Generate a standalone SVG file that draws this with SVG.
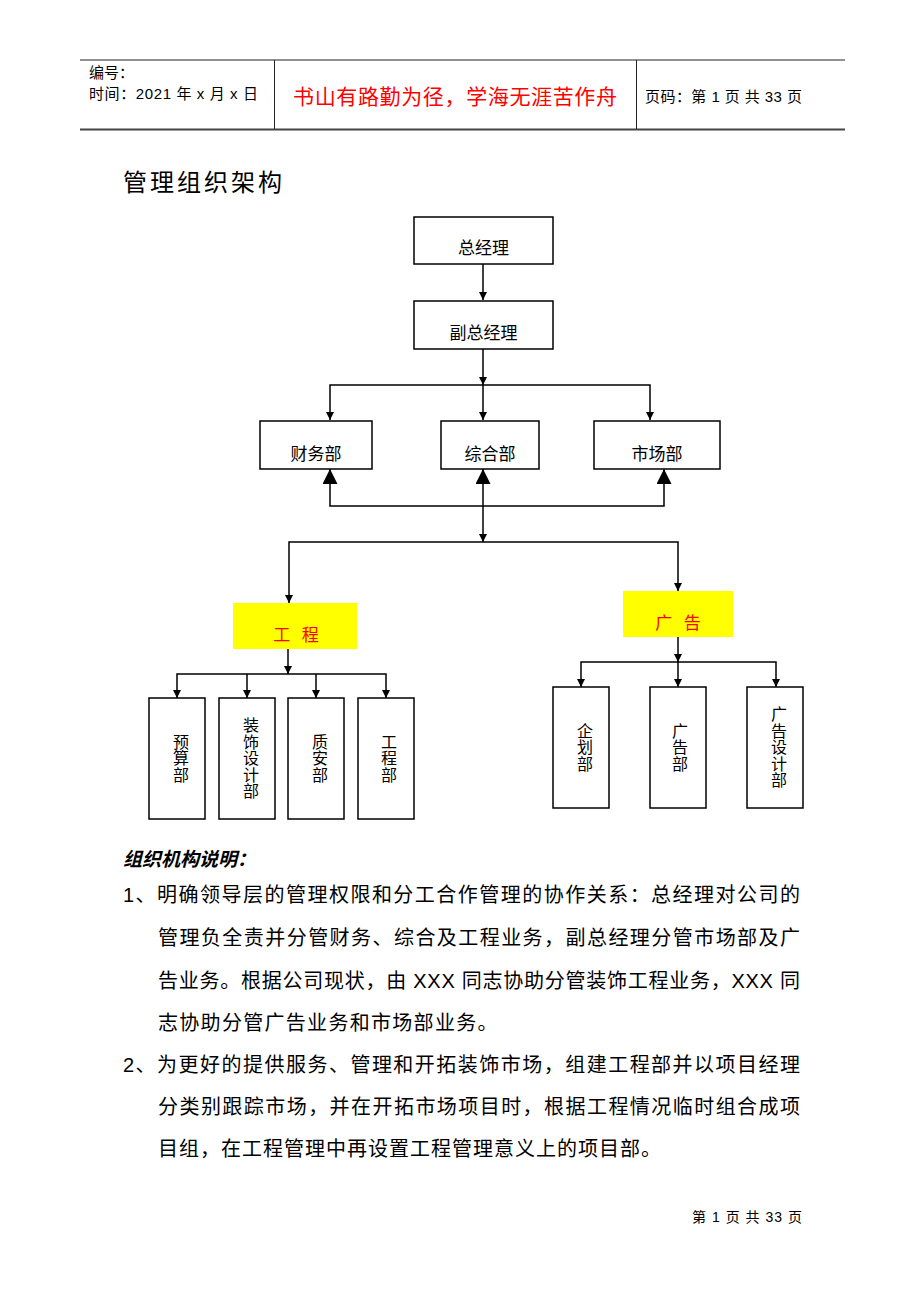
<svg xmlns="http://www.w3.org/2000/svg" width="920" height="1302" viewBox="0 0 920 1302">
<style>
.t{font-family:"Liberation Sans","Noto Sans CJK SC",sans-serif;fill:#000}
.c{font-family:"Noto Sans CJK SC",sans-serif;fill:#000}
.box{fill:#fff;stroke:#000;stroke-width:1.5}
.yel{fill:#ffff00;stroke:none}
.n{font-size:17px;text-anchor:middle;dominant-baseline:central}
.v{font-size:16px;text-anchor:middle;writing-mode:vertical-rl;letter-spacing:0.5px}
.red{fill:#ff0000}
.ln{fill:none;stroke:#000;stroke-width:1.5}
.p{font-size:20px}
</style>
<defs>
<marker id="a" viewBox="0 0 10 10" refX="10" refY="5" markerWidth="10" markerHeight="8" markerUnits="userSpaceOnUse" orient="auto-start-reverse"><path d="M0,0 L10,5 L0,10 z" fill="#000"/></marker>
<marker id="b" viewBox="0 0 10 10" refX="10" refY="5" markerWidth="16" markerHeight="15" markerUnits="userSpaceOnUse" orient="auto-start-reverse"><path d="M0,0 L10,5 L0,10 z" fill="#000"/></marker>
</defs>

<g id="header">
<line x1="80" y1="60" x2="845" y2="60" stroke="#222" stroke-width="1"/>
<line x1="80" y1="129.5" x2="845" y2="129.5" stroke="#444" stroke-width="2"/>
<line x1="274.5" y1="60" x2="274.5" y2="129" stroke="#222" stroke-width="1"/>
<line x1="636.5" y1="60" x2="636.5" y2="129" stroke="#222" stroke-width="1"/>
<text class="t" x="89" y="78" font-size="15">编号：</text>
<text class="t" x="89" y="99" font-size="15" textLength="169">时间：2021 年 x 月 x 日</text>
<text class="c red" x="293" y="104" font-size="21" textLength="324">书山有路勤为径，学海无涯苦作舟</text>
<text class="t" x="645" y="102" font-size="15" textLength="157">页码：第 1 页  共 33 页</text>
</g>

<text class="c" x="123" y="191" font-size="24" letter-spacing="3">管理组织架构</text>

<g id="connectors">
<line class="ln" x1="483" y1="264" x2="483" y2="300" marker-end="url(#a)"/>
<line class="ln" x1="483" y1="349" x2="483" y2="385" marker-end="url(#a)"/>
<path class="ln" d="M330,420 L330,385 L650,385 L650,420" marker-start="url(#a)" marker-end="url(#a)"/>
<line class="ln" x1="483" y1="385" x2="483" y2="420" marker-end="url(#a)"/>
<path class="ln" d="M330,469 L330,506 L664,506 L664,469" marker-start="url(#b)" marker-end="url(#b)"/>
<line class="ln" x1="483" y1="469" x2="483" y2="542" marker-start="url(#b)" marker-end="url(#a)"/>
<path class="ln" d="M289,603 L289,542 L678,542 L678,591" marker-start="url(#a)" marker-end="url(#a)"/>
<line class="ln" x1="288" y1="649" x2="288" y2="674" marker-end="url(#a)"/>
<path class="ln" d="M177,698 L177,674 L386,674 L386,698" marker-start="url(#a)" marker-end="url(#a)"/>
<line class="ln" x1="247" y1="674" x2="247" y2="698" marker-end="url(#a)"/>
<line class="ln" x1="316" y1="674" x2="316" y2="698" marker-end="url(#a)"/>
<line class="ln" x1="678" y1="637" x2="678" y2="662" marker-end="url(#a)"/>
<path class="ln" d="M581,687 L581,662 L776,662 L776,687" marker-start="url(#a)" marker-end="url(#a)"/>
<line class="ln" x1="678" y1="662" x2="678" y2="687" marker-end="url(#a)"/>
</g>

<g id="gm"><rect class="box" x="414" y="217" width="139" height="47"/><text class="c n" x="483.5" y="246">总经理</text></g>
<g id="vgm"><rect class="box" x="414" y="301" width="139" height="48"/><text class="c n" x="483.5" y="331">副总经理</text></g>
<g id="finance"><rect class="box" x="260" y="421" width="112" height="48"/><text class="c n" x="316" y="452">财务部</text></g>
<g id="general"><rect class="box" x="441" y="421" width="98" height="48"/><text class="c n" x="490" y="452">综合部</text></g>
<g id="market"><rect class="box" x="594" y="421" width="126" height="48"/><text class="c n" x="657" y="452">市场部</text></g>

<g id="eng"><rect class="yel" x="233" y="603" width="124" height="46"/><text class="c n red" x="296" y="633" xml:space="preserve">工   程</text></g>
<g id="ad"><rect class="yel" x="623" y="591" width="110" height="46"/><text class="c n red" x="678" y="621" xml:space="preserve">广   告</text></g>

<g id="budget"><rect class="box" x="149" y="698" width="56" height="121"/><text class="c v" x="181" y="758.5">预算部</text></g>
<g id="design"><rect class="box" x="219" y="698" width="56" height="121"/><text class="c v" x="251" y="758.5">装饰设计部</text></g>
<g id="quality"><rect class="box" x="288" y="698" width="56" height="121"/><text class="c v" x="320" y="758.5">质安部</text></g>
<g id="project"><rect class="box" x="358" y="698" width="56" height="121"/><text class="c v" x="389" y="758.5">工程部</text></g>

<g id="plan"><rect class="box" x="553" y="687" width="56" height="121"/><text class="c v" x="585" y="747.5">企划部</text></g>
<g id="adv"><rect class="box" x="650" y="687" width="56" height="121"/><text class="c v" x="680" y="747.5">广告部</text></g>
<g id="addesign"><rect class="box" x="747" y="687" width="56" height="121"/><text class="c v" x="779" y="747.5">广告设计部</text></g>

<g id="notes">
<text class="c" x="123" y="866" font-size="19" font-weight="bold" font-style="italic">组织机构说明：</text>
<text class="t p" x="123" y="902" textLength="677" lengthAdjust="spacing">1、明确领导层的管理权限和分工合作管理的协作关系：总经理对公司的</text>
<text class="c p" x="158" y="945" textLength="642" lengthAdjust="spacing">管理负全责并分管财务、综合及工程业务，副总经理分管市场部及广</text>
<text class="t p" x="158" y="988" textLength="642" lengthAdjust="spacing">告业务。根据公司现状，由 XXX 同志协助分管装饰工程业务，XXX 同</text>
<text class="c p" x="158" y="1030" letter-spacing="1.3">志协助分管广告业务和市场部业务。</text>
<text class="t p" x="123" y="1072" textLength="677" lengthAdjust="spacing">2、为更好的提供服务、管理和开拓装饰市场，组建工程部并以项目经理</text>
<text class="c p" x="158" y="1114" textLength="642" lengthAdjust="spacing">分类别跟踪市场，并在开拓市场项目时，根据工程情况临时组合成项</text>
<text class="c p" x="158" y="1156" letter-spacing="1">目组，在工程管理中再设置工程管理意义上的项目部。</text>
</g>

<text class="t" x="692" y="1222" font-size="14" textLength="110">第 1 页  共 33 页</text>
</svg>
